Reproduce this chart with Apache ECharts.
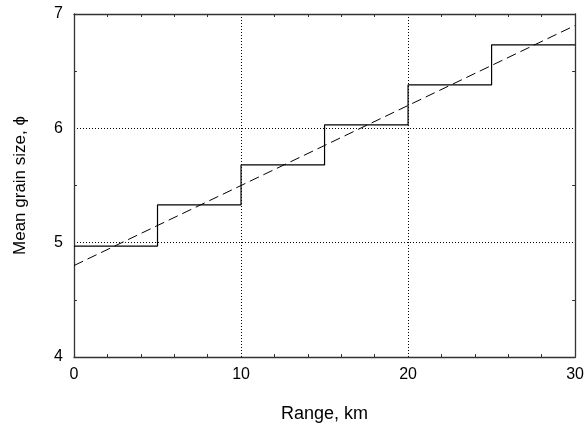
<!DOCTYPE html>
<html>
<head>
<meta charset="utf-8">
<script src="https://cdn.jsdelivr.net/npm/echarts@6/dist/echarts.min.js"></script>
<style>
  html, body { margin: 0; padding: 0; background: #fff; }
  #chart { width: 587px; height: 428px; }
</style>
</head>
<body>
<div id="chart"></div>
<script>
// Mean grain size per 5 km range bin, with a fitted linear trend
var binStarts = [0, 5, 10, 15, 20, 25];
var binMeans = [4.97, 5.33, 5.68, 6.03, 6.38, 6.73];
var rangeEnd = 30;
var trendX = [0, 30];
var trendY = [4.8, 6.9];
var xTicks = [0, 10, 20, 30];
var yTicks = [4, 5, 6, 7];

var FONT = "'Liberation Sans', Arial, sans-serif";
var INK = '#000';
var FRAME = '#333';

// staircase: each bin holds its mean until the next bin begins
var stepData = binStarts.map(function (x, i) { return [x, binMeans[i]]; });
stepData.push([rangeEnd, binMeans[binMeans.length - 1]]);
var trendData = trendX.map(function (x, i) { return [x, trendY[i]]; });

function axisBase(extra) {
  var a = {
    type: 'value',
    axisLine: { show: true, onZero: false, lineStyle: { color: FRAME, width: 1.3 } },
    axisTick: { show: false, inside: true },
    splitLine: { show: false },
    minorSplitLine: { show: false },
    axisLabel: { show: false }
  };
  for (var k in extra) a[k] = extra[k];
  return a;
}

function minor(n) {
  return { show: true, splitNumber: n, length: 3, lineStyle: { color: FRAME, width: 1 } };
}

var gridLine = { show: true, lineStyle: { color: INK, width: 1, type: [1, 2] } };

var option = {
  animation: false,
  backgroundColor: '#fff',
  grid: { left: 74, right: 11, top: 14, bottom: 69 },
  xAxis: [
    axisBase({
      position: 'bottom',
      min: xTicks[0], max: xTicks[xTicks.length - 1], interval: 10,
      minorTick: minor(5),
      splitLine: gridLine,
      axisLabel: { show: true, color: INK, fontSize: 16, fontFamily: FONT, margin: 10 },
      name: 'Range, km',
      nameLocation: 'middle',
      nameGap: 48,
      nameTextStyle: { color: INK, fontSize: 18, fontFamily: FONT }
    }),
    axisBase({
      position: 'top',
      min: xTicks[0], max: xTicks[xTicks.length - 1], interval: 10,
      minorTick: minor(5)
    })
  ],
  yAxis: [
    axisBase({
      position: 'left',
      min: yTicks[0], max: yTicks[yTicks.length - 1], interval: 1,
      minorTick: minor(2),
      splitLine: gridLine,
      axisLabel: { show: true, color: INK, fontSize: 16, fontFamily: FONT, margin: 11 },
      name: 'Mean grain size, \u03D5',
      nameLocation: 'middle',
      nameGap: 45,
      nameRotate: 90,
      nameTextStyle: { color: INK, fontSize: 17, fontFamily: FONT }
    }),
    axisBase({
      position: 'right',
      min: yTicks[0], max: yTicks[yTicks.length - 1], interval: 1,
      minorTick: minor(2)
    })
  ],
  series: [
    {
      type: 'line',
      name: 'Bin mean',
      data: stepData,
      step: 'end',
      showSymbol: false,
      lineStyle: { color: INK, width: 1.2 },
      z: 3
    },
    {
      type: 'line',
      name: 'Trend',
      data: trendData,
      showSymbol: false,
      lineStyle: { color: INK, width: 1, type: [10, 5] },
      z: 4
    }
  ]
};

var chart = echarts.init(document.getElementById('chart'), null, { renderer: 'canvas' });
chart.setOption(option);
</script>
</body>
</html>
